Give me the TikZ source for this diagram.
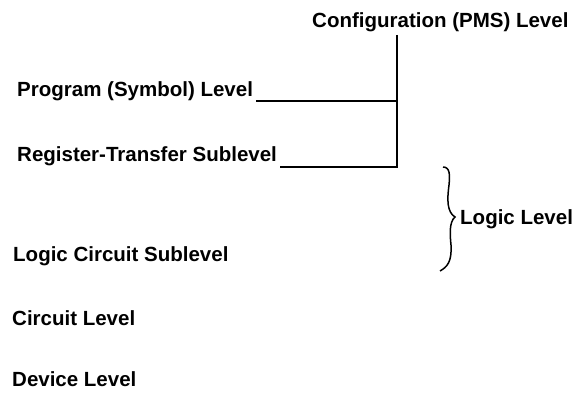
\documentclass[tikz,border=0pt]{standalone}
\usepackage{fontspec}
\setmainfont{Liberation Sans}
\begin{document}
\begin{tikzpicture}[x=1pt,y=-1pt,
  lvl/.style={anchor=base west,inner sep=0pt,font=\fontsize{20.5}{24}\selectfont\bfseries},
  ln/.style={line width=1.7pt}]
\useasboundingbox (0,0) rectangle (577,395);
\node[lvl] (cfg) at (312,28) {Configuration (PMS) Level};
\node[lvl] (prog) at (17,97) {Program (Symbol) Level};
\node[lvl] (reg) at (17,162) {Register-Transfer Sublevel};
\node[lvl] (lcs) at (13,261) {Logic Circuit Sublevel};
\node[lvl] (circ) at (12,325) {Circuit Level};
\node[lvl] (dev) at (12,386) {Device Level};
\node[lvl] (logic) at (460,224) {Logic Level};
\coordinate (top) at (397,35);
\coordinate (bot) at (397,167);
\draw[ln] (top) -- (bot) -- ([xshift=3pt,yshift=-5pt]reg.base east);
\draw[ln] ([xshift=3pt,yshift=-4pt]prog.base east) -- ([yshift=-4pt]prog.base east -| top);
\draw[ln,line width=1.5pt] (443,167) .. controls (450,167) and (450,175) .. (449,185)
  .. controls (447,200) and (447,212) .. (455,217)
  .. controls (449,222) and (450,235) .. (451,245)
  .. controls (452,262) and (447,267) .. (440,271);
\end{tikzpicture}
\end{document}
